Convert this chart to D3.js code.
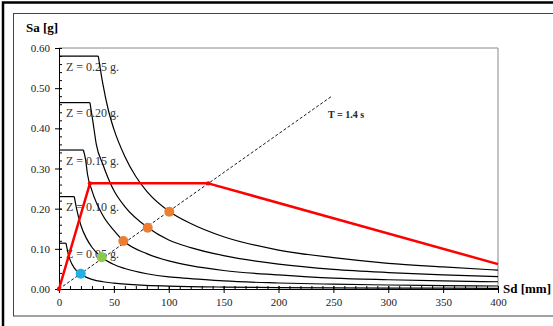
<!DOCTYPE html>
<html>
<head>
<meta charset="utf-8">
<script src="https://cdn.jsdelivr.net/npm/d3@7"></script>
<style>
  body { margin: 0; background: #fff; }
  svg { display: block; }
  text { font-family: "Liberation Serif", "Times New Roman", serif; }
</style>
</head>
<body>
<svg id="chart" width="553" height="326"></svg>
<script>
// spectra curves, [Sd mm, Sa g]
var z005 = [[0,0.114],[6.4,0.114],[8,0.092],[10,0.073],[14,0.052],[19.8,0.038],[25,0.029],[30,0.024],[40,0.018],[50,0.0145],[75,0.0095],[100,0.0072],[150,0.0048],[200,0.0036],[300,0.0024],[400,0.0018]];
var z010 = [[0,0.23],[13.9,0.23],[16,0.2],[20,0.158],[25,0.126],[30,0.104],[38.9,0.079],[50,0.061],[60,0.051],[80,0.038],[100,0.03],[120,0.026],[150,0.02],[200,0.015],[250,0.012],[300,0.01],[350,0.0085],[400,0.0075]];
var z015 = [[0,0.346],[22.2,0.346],[24.3,0.321],[26,0.285],[30,0.245],[40,0.183],[50,0.146],[58.6,0.12],[80,0.088],[100,0.07],[120,0.058],[150,0.046],[200,0.035],[250,0.027],[300,0.023],[350,0.02],[400,0.018]];
var z020 = [[0,0.464],[28.2,0.464],[31,0.415],[34,0.36],[40,0.31],[50,0.245],[60,0.205],[80.8,0.153],[100,0.122],[120,0.103],[150,0.083],[200,0.062],[250,0.049],[300,0.041],[350,0.035],[400,0.031]];
var z025 = [[0,0.58],[35.8,0.58],[40,0.51],[45,0.445],[50,0.398],[60,0.33],[70,0.28],[80,0.243],[100.5,0.193],[120,0.163],[150,0.13],[200,0.097],[250,0.078],[300,0.064],[350,0.055],[400,0.047]];
var curves = [z005, z010, z015, z020, z025];
var zLabels = ["Z = 0.05 g.", "Z = 0.10 g.", "Z = 0.15 g.", "Z = 0.20 g.", "Z = 0.25 g."];

// capacity curve (red)
var capacity = [[0,0],[28.2,0.263],[136,0.263],[400,0.062]];
// T = 1.4 s line
var periodLine = [[0,0],[248.5,0.48]];
// performance points
var perfPoints = [[19.8,0.038],[38.9,0.079],[58.6,0.1195],[80.8,0.1527],[100.5,0.1925]];
var perfColors = ["#1fb0e8","#8cc84b","#ed7d31","#ed7d31","#ed7d31"];

var xTicks = [0,50,100,150,200,250,300,350,400];
var yTicks = [0,0.1,0.2,0.3,0.4,0.5,0.6];

var svg = d3.select("#chart");

// frame
svg.append("rect").attr("x", 3).attr("y", 2.5).attr("width", 600).attr("height", 400)
   .attr("fill", "none").attr("stroke", "#000").attr("stroke-width", 2.5);
svg.append("rect").attr("x", 13.5).attr("y", 13.5).attr("width", 600).attr("height", 302.5)
   .attr("fill", "none").attr("stroke", "#444").attr("stroke-width", 1);

var xScale = d3.scaleLinear().domain([0, 400]).range([59, 498]);
var yScale = d3.scaleLinear().domain([0, 0.6]).range([289, 48]);

// plot border top/right
svg.append("path")
   .attr("d", `M${xScale(0)},${yScale(0.6)}H${xScale(400)}V${yScale(0)}`)
   .attr("fill", "none").attr("stroke", "#888").attr("stroke-width", 1);

// labels under curves
svg.append("g").selectAll("text")
   .data(curves)
   .enter()
   .append("text")
   .attr("x", 66)
   .attr("y", d => yScale(d[0][1]) + 14.5)
   .attr("font-size", 12)
   .attr("fill", "#333")
   .text((d, i) => zLabels[i]);

var plateau = d3.line().x(d => xScale(d[0])).y(d => yScale(d[1]));
var decay = d3.line().x(d => xScale(d[0])).y(d => yScale(d[1])).curve(d3.curveMonotoneX);

var cg = svg.append("g");
curves.forEach(c => {
    cg.append("path").attr("d", plateau(c.slice(0, 2)))
      .attr("fill", "none").attr("stroke", "#000").attr("stroke-width", 1.2);
    cg.append("path").attr("d", decay(c.slice(1)))
      .attr("fill", "none").attr("stroke", "#000").attr("stroke-width", 1.2);
});

// axes
var xMinor = d3.axisBottom(xScale).ticks(40).tickSize(-3).tickFormat("");
svg.append("g").attr("transform", `translate(0,${yScale(0)})`).call(xMinor)
   .call(g => g.select(".domain").remove());
var xUp = d3.axisBottom(xScale).tickValues(xTicks).tickSize(-3).tickFormat("");
svg.append("g").attr("transform", `translate(0,${yScale(0)})`).call(xUp)
   .call(g => g.select(".domain").remove());
var xAxisGen = d3.axisBottom(xScale).tickValues(xTicks).tickSize(4).tickSizeOuter(0).tickPadding(5).tickFormat(d3.format("d"));
var xAxis = svg.append("g").attr("transform", `translate(0,${yScale(0)})`).call(xAxisGen);
xAxis.selectAll("text").attr("font-size", 11).attr("font-family", "Liberation Serif").attr("fill", "#222");

var yMinor = d3.axisLeft(yScale).ticks(30).tickSize(-3).tickFormat("");
svg.append("g").attr("transform", `translate(${xScale(0)},0)`).call(yMinor)
   .call(g => g.select(".domain").remove());
var yUp = d3.axisLeft(yScale).tickValues(yTicks).tickSize(-3).tickFormat("");
svg.append("g").attr("transform", `translate(${xScale(0)},0)`).call(yUp)
   .call(g => g.select(".domain").remove());
var yAxisGen = d3.axisLeft(yScale).tickValues(yTicks).tickSize(4).tickSizeOuter(0).tickPadding(5).tickFormat(d3.format(".2f"));
var yAxis = svg.append("g").attr("transform", `translate(${xScale(0)},0)`).call(yAxisGen);
yAxis.selectAll("text").attr("font-size", 11).attr("font-family", "Liberation Serif").attr("fill", "#222");
svg.selectAll(".tick line").attr("stroke", "#000");

// T = 1.4 s dashed line
svg.append("path").attr("d", plateau(periodLine))
   .attr("fill", "none").attr("stroke", "#000").attr("stroke-width", 0.9)
   .attr("stroke-dasharray", "3,2");

// capacity curve
svg.append("path").attr("d", plateau(capacity))
   .attr("fill", "none").attr("stroke", "#ff0000").attr("stroke-width", 2.5)
   .attr("stroke-linejoin", "round");
svg.append("g").selectAll("circle")
   .data(capacity.slice(0, 3))
   .enter()
   .append("circle")
   .attr("cx", d => xScale(d[0])).attr("cy", d => yScale(d[1]))
   .attr("r", 2.2).attr("fill", "#ff0000");

// performance points
svg.append("g").selectAll("circle")
   .data(perfPoints)
   .enter()
   .append("circle")
   .attr("cx", d => xScale(d[0])).attr("cy", d => yScale(d[1]))
   .attr("r", 5).attr("fill", (d, i) => perfColors[i]);

// titles
svg.append("text").attr("x", 26).attr("y", 31.5).attr("font-size", 13).attr("font-weight", "bold")
   .text("Sa [g]");
svg.append("text").attr("x", 503).attr("y", 293).attr("font-size", 13).attr("font-weight", "bold")
   .text("Sd [mm]");
svg.append("text").attr("x", 328).attr("y", 117.5).attr("font-size", 10).attr("font-weight", "bold")
   .attr("font-family", "Liberation Sans, Arial, sans-serif").attr("fill", "#222")
   .text("T = 1.4 s");
</script>
</body>
</html>
